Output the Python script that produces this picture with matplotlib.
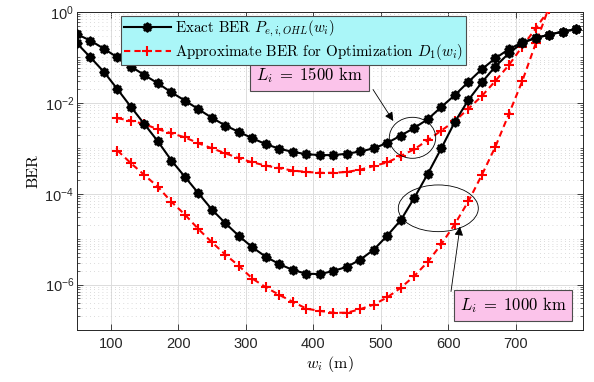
import numpy as np
import matplotlib
matplotlib.use('Agg')
import matplotlib.pyplot as plt
from matplotlib.patches import Ellipse
from matplotlib.ticker import FixedLocator, NullFormatter
from matplotlib.legend_handler import HandlerTuple

# ---------------- data ----------------
w_exact = [50, 70, 90, 110, 130, 150, 170, 190, 210, 230, 250, 270, 290, 310,
           330, 350, 370, 390, 410, 430, 450, 470, 490, 510, 530, 550, 570,
           590, 610, 630, 650, 670, 690, 710, 730, 750, 770, 790]
w_approx = [110, 130, 150, 170, 190, 210, 230, 250, 270, 290, 310, 330, 350,
            370, 390, 410, 430, 450, 470, 490, 510, 530, 550, 570, 590, 610,
            630, 650, 670, 690, 710, 730, 750]

# log10(BER)
exact_1500_log = [-0.49, -0.63, -0.81, -1.00, -1.20, -1.39, -1.57, -1.77, -1.95,
                  -2.14, -2.33, -2.50, -2.64, -2.78, -2.91, -3.01, -3.08, -3.13,
                  -3.15, -3.15, -3.12, -3.07, -3.00, -2.88, -2.72, -2.55, -2.36,
                  -2.09, -1.83, -1.54, -1.26, -1.02, -0.82, -0.67, -0.57, -0.50,
                  -0.43, -0.38]
exact_1000_log = [-0.69, -1.00, -1.32, -1.70, -2.09, -2.47, -2.85, -3.27, -3.63,
                  -3.99, -4.35, -4.65, -4.93, -5.18, -5.39, -5.55, -5.68, -5.76,
                  -5.77, -5.70, -5.61, -5.45, -5.23, -4.92, -4.58, -4.09, -3.56,
                  -3.00, -2.42, -1.94, -1.55, -1.20, -0.91, -0.68, -0.57, -0.50,
                  -0.43, -0.38]
approx_1500_log = [-2.34, -2.39, -2.47, -2.58, -2.67, -2.76, -2.89, -3.00, -3.11,
                   -3.22, -3.31, -3.38, -3.44, -3.49, -3.52, -3.54, -3.54, -3.52,
                   -3.47, -3.39, -3.31, -3.17, -3.02, -2.82, -2.61, -2.40, -2.13,
                   -1.85, -1.52, -1.17, -0.76, -0.36, 0.06]
approx_1000_log = [-3.05, -3.33, -3.59, -3.85, -4.18, -4.46, -4.78, -5.07, -5.34,
                   -5.59, -5.87, -6.06, -6.23, -6.38, -6.53, -6.58, -6.62, -6.62,
                   -6.54, -6.44, -6.28, -6.07, -5.81, -5.50, -5.11, -4.67, -4.17,
                   -3.59, -2.97, -2.25, -1.52, -0.69, 0.12]

x_ticks = [100, 200, 300, 400, 500, 600, 700]
y_ticks = [1e-6, 1e-4, 1e-2, 1e0]
y_ticklabels = [r'$\mathregular{10^{-6}}$', r'$\mathregular{10^{-4}}$',
                r'$\mathregular{10^{-2}}$', r'$\mathregular{10^{0}}$']

legend_labels = [r'Exact BER $P_{e,i,OHL}(w_i)$',
                 r'Approximate BER for Optimization $D_1(w_i)$']
label_1500 = r'$L_i\;=\;1500$ km'
label_1000 = r'$L_i\;=\;1000$ km'

# ---------------- figure ----------------
plt.rcParams['mathtext.fontset'] = 'cm'
plt.rcParams['axes.unicode_minus'] = False
W, H = 594, 382
fig = plt.figure(figsize=(W / 100, H / 100), dpi=100)
ax_l, ax_r, ax_t, ax_b = 77, 583, 12, 330
ax = fig.add_axes([ax_l / W, 1 - ax_b / H, (ax_r - ax_l) / W, (ax_b - ax_t) / H])


def px2ax(x, y):
    return ((x - ax_l) / (ax_r - ax_l), (ax_b - y) / (ax_b - ax_t))


def ber(v):
    return 10.0 ** np.asarray(v)


black_handles = None
for logv in (exact_1500_log, exact_1000_log):
    l1, = ax.plot(w_exact, ber(logv), '-', color='k', lw=1.5, marker='o', ms=5.5,
                  mfc='k', mec='k', zorder=4)
    l2, = ax.plot(w_exact, ber(logv), ls='none', marker=(8, 2, 0), ms=7,
                  mec='k', mew=1.2, zorder=4)
    black_handles = (l1, l2)

red_handle = None
for logv in (approx_1500_log, approx_1000_log):
    red_handle, = ax.plot(w_approx, ber(logv), color='#ff0000', lw=1.5,
                          ls=(0, (3.0, 2.0)), marker='+', ms=7.5, mew=1.5,
                          zorder=3)

ax.set_yscale('log')
ax.set_xlim(50, 800)
ax.set_ylim(1e-7, 1)

ax.xaxis.set_major_locator(FixedLocator(x_ticks))
ax.yaxis.set_major_locator(FixedLocator(y_ticks))
minor_y = []
for e in range(-7, 0):
    for m in range(1, 10):
        v = m * 10.0 ** e
        if m == 1 and e in (-6, -4, -2):
            continue
        minor_y.append(v)
ax.yaxis.set_minor_locator(FixedLocator(minor_y))
ax.yaxis.set_minor_formatter(NullFormatter())
ax.set_yticklabels(y_ticklabels)

for lab in ax.get_xticklabels() + ax.get_yticklabels():
    lab.set_fontfamily('Liberation Sans')
    lab.set_fontsize(10.5)
    lab.set_color('#262626')

ax.tick_params(which='both', direction='in', top=True, right=True,
               colors='#262626')
ax.tick_params(which='major', length=4, width=0.6)
ax.tick_params(which='minor', length=2, width=0.5)
ax.tick_params(axis='x', which='major', pad=5)
ax.tick_params(axis='y', which='major', pad=2)

ax.grid(True, which='major', color='#dcdcdc', lw=0.7, ls='-')
ax.yaxis.grid(True, which='minor', color='#cfcfcf', lw=0.6, ls=(0, (1, 4)))
ax.set_axisbelow(True)
for s in ax.spines.values():
    s.set_color('#262626')
    s.set_linewidth(0.7)

ax.set_xlabel(r'$w_i$ (m)', family='cmr10', fontsize=11.5, labelpad=2)
ax.set_ylabel('BER', family='cmr10', fontsize=11.5, labelpad=3)

leg = ax.legend([black_handles, red_handle], legend_labels,
                handler_map={tuple: HandlerTuple(ndivide=1)},
                loc='upper left', bbox_to_anchor=px2ax(121, 16),
                borderaxespad=0, prop={'family': 'cmr10', 'size': 10.8},
                fancybox=False, framealpha=1, facecolor='#aaf6f8',
                edgecolor='#4d4d4d', handlelength=3.1, handletextpad=0.3,
                borderpad=0.2, labelspacing=0.2)
leg.get_frame().set_linewidth(0.8)
leg.set_zorder(6)

box_kw = dict(boxstyle='square,pad=0.35', fc='#fbc3ea', ec='#4d4d4d', lw=0.8)
ax.text(*px2ax(309.5, 75.5), label_1500, transform=ax.transAxes,
        ha='center', va='center', family='cmr10', fontsize=12, bbox=box_kw,
        zorder=6)
ax.text(*px2ax(513, 305.5), label_1000, transform=ax.transAxes,
        ha='center', va='center', family='cmr10', fontsize=12, bbox=box_kw,
        zorder=6)

c1 = px2ax(412.5, 137.8)
ax.add_patch(Ellipse(c1, 46.4 / 506, 41 / 318, transform=ax.transAxes,
                     fill=False, ec='k', lw=0.6, zorder=5))
c2 = px2ax(438.3, 208.3)
ax.add_patch(Ellipse(c2, 80 / 506, 46.7 / 318, transform=ax.transAxes,
                     fill=False, ec='k', lw=0.6, zorder=5))

arr = dict(arrowstyle='-|>', color='k', lw=0.6, mutation_scale=13,
           shrinkA=0, shrinkB=0)
ax.annotate('', xy=px2ax(393.3, 121), xytext=px2ax(373, 89.5),
            xycoords='axes fraction', textcoords='axes fraction',
            arrowprops=arr, zorder=6)
ax.annotate('', xy=px2ax(460, 226.7), xytext=px2ax(451, 291.5),
            xycoords='axes fraction', textcoords='axes fraction',
            arrowprops=arr, zorder=6)

fig.savefig('out.png', dpi=100)
